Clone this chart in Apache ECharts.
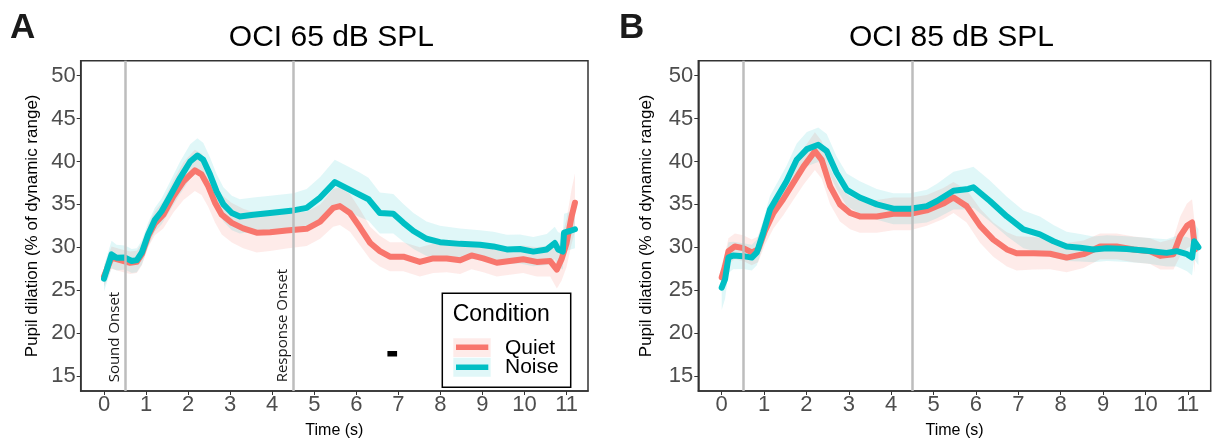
<!DOCTYPE html>
<html><head><meta charset="utf-8">
<script src="https://cdn.jsdelivr.net/npm/echarts@6.0.0/dist/echarts.min.js"></script>
<style>html,body{margin:0;padding:0;background:#fff}#c{width:1214px;height:444px}</style>
</head><body><div id="c"></div>
<script>
// ---------------- data ----------------
const xTicks = [0,1,2,3,4,5,6,7,8,9,10,11];
const yTicks = [15,20,25,30,35,40,45,50];
const panelTitles = ['OCI 65 dB SPL', 'OCI 85 dB SPL'];
const panelLetters = ['A', 'B'];
const seriesNames = ['Quiet', 'Noise'];
const markerTimes = [0.5, 4.5];
const markerLabels = ['Sound Onset', 'Response Onset'];
const sigBarA = [[6.74, 17.6], [6.97, 17.6]];
// [time (s), mean, CI half-width]
const quietA = [[0,26.6,1.2],[0.18,28.8,1.3],[0.38,28.5,1.3],[0.62,28.2,1.3],[0.78,28.3,1.3],[0.9,29.2,1.3],[1.05,31.3,1.3],[1.21,32.8,1.4],[1.41,33.8,1.6],[1.65,35.95,1.9],[1.89,37.7,2.2],[2.16,38.97,2.4],[2.32,38.5,2.4],[2.48,37.1,2.4],[2.64,35.2,2.3],[2.8,33.8,2.3],[3.04,32.85,2.3],[3.31,32.2,2.3],[3.63,31.7,2.3],[3.95,31.76,2.2],[4.34,31.96,2.1],[4.82,32.15,2.0],[5.14,33.0,2.0],[5.45,34.6,2.2],[5.61,34.8,2.2],[5.85,34.0,2.2],[6.09,32.3,2.1],[6.33,30.5,1.9],[6.56,29.55,1.8],[6.8,28.9,1.7],[7.12,28.9,1.7],[7.51,28.3,1.7],[7.83,28.7,1.7],[8.15,28.7,1.6],[8.47,28.5,1.6],[8.74,29.05,1.6],[9.02,28.7,1.6],[9.34,28.2,1.6],[9.65,28.4,1.6],[9.97,28.6,1.6],[10.29,28.3,1.7],[10.61,28.4,1.8],[10.77,27.4,2.2],[10.88,28.6,2.5],[11.0,30.5,2.8],[11.12,33.6,3.2],[11.2,35.2,3.4]];
const noiseA = [[0,26.35,1.5],[0.18,29.17,1.6],[0.3,28.79,1.5],[0.5,28.8,1.4],[0.66,28.4,1.4],[0.78,28.5,1.4],[0.9,29.4,1.4],[1.05,31.5,1.4],[1.21,33.2,1.4],[1.37,34.2,1.5],[1.57,35.95,1.7],[1.81,38.1,1.9],[2.05,40.0,2.0],[2.22,40.7,2.0],[2.36,40.2,2.0],[2.52,38.5,2.0],[2.68,36.5,2.0],[2.84,35.0,2.0],[3.04,34.0,2.0],[3.23,33.6,2.0],[3.55,33.8,2.0],[3.95,34.0,2.0],[4.5,34.3,2.0],[4.82,34.6,2.2],[5.14,35.8,2.4],[5.49,37.6,2.6],[5.77,36.9,2.6],[6.09,36.1,2.6],[6.29,35.6,2.5],[6.56,34.0,2.4],[6.88,33.9,2.3],[7.12,32.85,2.2],[7.36,31.9,2.1],[7.67,31.0,2.0],[7.99,30.6,1.9],[8.47,30.4,1.8],[8.94,30.3,1.7],[9.26,30.1,1.7],[9.58,29.75,1.7],[9.89,29.8,1.7],[10.21,29.5,1.7],[10.53,29.75,1.8],[10.72,30.5,1.9],[10.8,29.75,2.0],[10.91,29.5,2.1],[10.94,31.7,2.2],[11.08,31.9,2.2],[11.2,32.1,2.2]];
const quietB = [[0,26.5,1.5],[0.08,27.8,1.5],[0.16,29.55,1.5],[0.31,30.1,1.5],[0.51,29.9,1.5],[0.71,29.4,1.5],[0.86,29.75,1.5],[1.02,31.9,1.6],[1.22,34.0,1.8],[1.45,35.6,1.9],[1.69,37.5,2.0],[1.93,39.4,2.1],[2.2,41.2,2.2],[2.36,40.2,2.2],[2.56,37.1,2.1],[2.79,35.0,2.0],[3.03,34.0,1.9],[3.26,33.6,1.9],[3.66,33.6,1.9],[4.05,33.9,1.9],[4.45,33.9,1.9],[4.84,34.3,1.8],[5.23,35.1,1.8],[5.47,35.8,1.8],[5.78,34.8,1.9],[6.1,32.5,2.0],[6.41,30.9,2.0],[6.73,29.75,2.0],[6.96,29.3,2.0],[7.36,29.3,1.9],[7.75,29.25,1.8],[8.14,28.8,1.7],[8.54,29.2,1.6],[8.93,30.1,1.5],[9.32,30.1,1.5],[9.72,29.75,1.5],[10.11,29.55,1.5],[10.35,29.0,1.6],[10.66,29.2,1.8],[10.82,31.3,2.3],[10.98,32.5,2.6],[11.1,32.9,2.7],[11.17,29.75,2.7]];
const noiseB = [[0,25.3,2.6],[0.08,26.3,2.3],[0.16,28.8,1.8],[0.27,29.05,1.6],[0.51,28.97,1.5],[0.71,28.8,1.5],[0.83,29.4,1.5],[0.98,31.7,1.5],[1.14,34.4,1.6],[1.34,36.1,1.7],[1.53,37.7,1.8],[1.77,40.2,1.9],[2.01,41.45,2.0],[2.28,41.95,2.0],[2.48,41.2,2.0],[2.71,38.7,1.9],[2.95,36.7,1.9],[3.26,35.8,1.9],[3.66,35.0,1.8],[4.05,34.5,1.8],[4.45,34.5,1.8],[4.84,34.8,1.9],[5.08,35.4,2.0],[5.47,36.6,2.2],[5.82,36.8,2.4],[5.94,37.0,2.4],[6.33,35.4,2.4],[6.73,33.6,2.3],[7.12,32.1,2.2],[7.51,31.5,2.1],[7.83,30.7,1.9],[8.14,30.1,1.7],[8.46,29.95,1.6],[8.77,29.75,1.5],[9.09,29.9,1.5],[9.56,29.8,1.5],[10.03,29.6,1.5],[10.5,29.35,1.6],[10.74,29.55,1.8],[10.98,29.2,2.0],[11.1,28.8,2.1],[11.15,30.7,2.1],[11.25,30.0,2.1]];

// ---------------- layout / style ----------------
const FONT = '"Liberation Sans", Arial, sans-serif';
const COL = { Quiet: '#F8766D', Noise: '#00BFC4' };
const BAND = { Quiet: 'rgba(248,118,109,0.15)', Noise: 'rgba(0,191,196,0.12)' };
const xRanges = [[-0.554, 11.51], [-0.552, 11.54]];
const yRange = [13.25, 51.75];
const onsetLabelY = 14.26;
const grids = [
  { left: 80.7, right: 1214 - 588, top: 60.7, bottom: 52 },
  { left: 698.3, right: 3.3, top: 60.7, bottom: 52 }
];
const panels = [[quietA, noiseA], [quietB, noiseB]];

const chart = echarts.init(document.getElementById('c'), null, { renderer: 'canvas' });

function bandSeries(name, arr, gi) {
  return {
    type: 'custom', name: name + ' CI', xAxisIndex: gi, yAxisIndex: gi, z: 1, silent: true,
    data: [[arr[0][0], arr[0][1]]],
    renderItem(params, api) {
      const pts = [];
      for (const p of arr) pts.push(api.coord([p[0], p[1] + p[2]]));
      for (let i = arr.length - 1; i >= 0; i--) pts.push(api.coord([arr[i][0], arr[i][1] - arr[i][2]]));
      return { type: 'polygon', shape: { points: pts }, style: { fill: BAND[name] } };
    }
  };
}
function lineSeries(name, arr, gi) {
  return {
    type: 'line', name, xAxisIndex: gi, yAxisIndex: gi, z: 4, silent: true,
    symbol: 'none', smooth: false,
    lineStyle: { color: COL[name], width: 6, join: 'round', cap: 'round' },
    itemStyle: { color: COL[name] },
    data: arr.map(p => [p[0], p[1]])
  };
}

const series = [];
const xAxis = [], yAxis = [], title = [];
panels.forEach((pair, gi) => {
  pair.forEach((arr, k) => series.push(bandSeries(seriesNames[k], arr, gi)));
  series.push({
    type: 'line', name: 'onsets' + gi, xAxisIndex: gi, yAxisIndex: gi, z: 2, silent: true, data: [],
    markLine: {
      silent: true, symbol: 'none', animation: false, label: { show: false },
      lineStyle: { color: '#bdbdbd', width: 2.5, type: 'solid' },
      data: markerTimes.map(t => ({ xAxis: t }))
    }
  });
  pair.forEach((arr, k) => series.push(lineSeries(seriesNames[k], arr, gi)));
  xAxis.push({
    type: 'value', gridIndex: gi, min: xRanges[gi][0], max: xRanges[gi][1],
    axisLine: { show: true, onZero: false, lineStyle: { color: '#333', width: 1.5 } },
    axisTick: { show: true, length: 4, customValues: xTicks, lineStyle: { color: '#333', width: 1 } },
    axisLabel: { customValues: xTicks, color: '#4d4d4d', fontSize: 22, fontFamily: FONT, margin: 3 },
    splitLine: { show: false },
    name: 'Time (s)', nameLocation: 'middle', nameGap: 32,
    nameTextStyle: { color: '#000', fontSize: 16, fontFamily: FONT }
  });
  yAxis.push({
    type: 'value', gridIndex: gi, min: yRange[0], max: yRange[1],
    axisLine: { show: true, onZero: false, lineStyle: { color: '#333', width: 1.5 } },
    axisTick: { show: true, length: 4, customValues: yTicks, lineStyle: { color: '#333', width: 1 } },
    axisLabel: { customValues: yTicks, color: '#4d4d4d', fontSize: 22, fontFamily: FONT, margin: 5 },
    splitLine: { show: false },
    name: 'Pupil dilation (% of dynamic range)', nameLocation: 'middle', nameGap: gi === 0 ? 40 : 43,
    nameTextStyle: { color: '#000', fontSize: 17, fontFamily: FONT }
  });
  const g = grids[gi];
  const cx = (g.left + (1214 - g.right)) / 2 - 3;
  title.push({
    text: panelTitles[gi], left: cx, top: 23, textAlign: 'center', padding: 0,
    textStyle: { fontSize: 30, fontWeight: 'normal', color: '#000', fontFamily: FONT }
  });
});
// significance bar (panel A)
series.push({
  type: 'line', name: 'sig', xAxisIndex: 0, yAxisIndex: 0, z: 5, silent: true, symbol: 'none',
  lineStyle: { color: '#000', width: 5.6, cap: 'butt' }, data: sigBarA
});
// onset labels (panel A)
series.push({
  type: 'custom', name: 'onsetLabels', xAxisIndex: 0, yAxisIndex: 0, z: 5, silent: true,
  data: markerTimes.map(t => [t, onsetLabelY]),
  renderItem(params, api) {
    const c = api.coord([api.value(0), api.value(1)]);
    return {
      type: 'text', x: c[0] - 2.5, y: c[1], rotation: Math.PI / 2,
      style: { text: markerLabels[params.dataIndex], fontSize: 15, fontFamily: '"Open Sans", sans-serif',
               fill: '#1a1a1a', align: 'left', verticalAlign: 'bottom' }
    };
  }
});

const graphic = [
  { type: 'text', left: 10, top: 11, style: { text: panelLetters[0], fontSize: 35, fontWeight: 'bold', fill: '#1a1a1a', fontFamily: FONT } },
  { type: 'text', left: 619, top: 11, style: { text: panelLetters[1], fontSize: 35, fontWeight: 'bold', fill: '#1a1a1a', fontFamily: FONT } },
  // legend
  { type: 'rect', shape: { x: 442.3, y: 293.3, width: 128.4, height: 94 }, style: { fill: '#fff', stroke: '#000', lineWidth: 1.5 }, z: 10 },
  { type: 'text', x: 452.7, y: 315, style: { text: 'Condition', fontSize: 23, fill: '#000', fontFamily: FONT, verticalAlign: 'middle' }, z: 11 },
  { type: 'rect', shape: { x: 453.3, y: 338.3, width: 37.4, height: 18.6 }, style: { fill: BAND.Quiet }, z: 11 },
  { type: 'rect', shape: { x: 453.3, y: 357.7, width: 37.4, height: 19 }, style: { fill: BAND.Noise }, z: 11 },
  { type: 'line', shape: { x1: 456, y1: 347.3, x2: 488.3, y2: 347.3 }, style: { stroke: COL.Quiet, lineWidth: 5.5 }, z: 12 },
  { type: 'line', shape: { x1: 456, y1: 367.3, x2: 488.3, y2: 367.3 }, style: { stroke: COL.Noise, lineWidth: 5.5 }, z: 12 },
  { type: 'text', x: 505, y: 348.3, style: { text: seriesNames[0], fontSize: 21, fill: '#000', fontFamily: FONT, verticalAlign: 'middle' }, z: 12 },
  { type: 'text', x: 505, y: 367.3, style: { text: seriesNames[1], fontSize: 21, fill: '#000', fontFamily: FONT, verticalAlign: 'middle' }, z: 12 }
];

chart.setOption({
  animation: false,
  backgroundColor: '#fff',
  title,
  grid: grids.map(g => Object.assign({ show: true, borderColor: '#333', borderWidth: 1.5, backgroundColor: 'transparent', containLabel: false }, g)),
  xAxis, yAxis, series, graphic
});
</script></body></html>
